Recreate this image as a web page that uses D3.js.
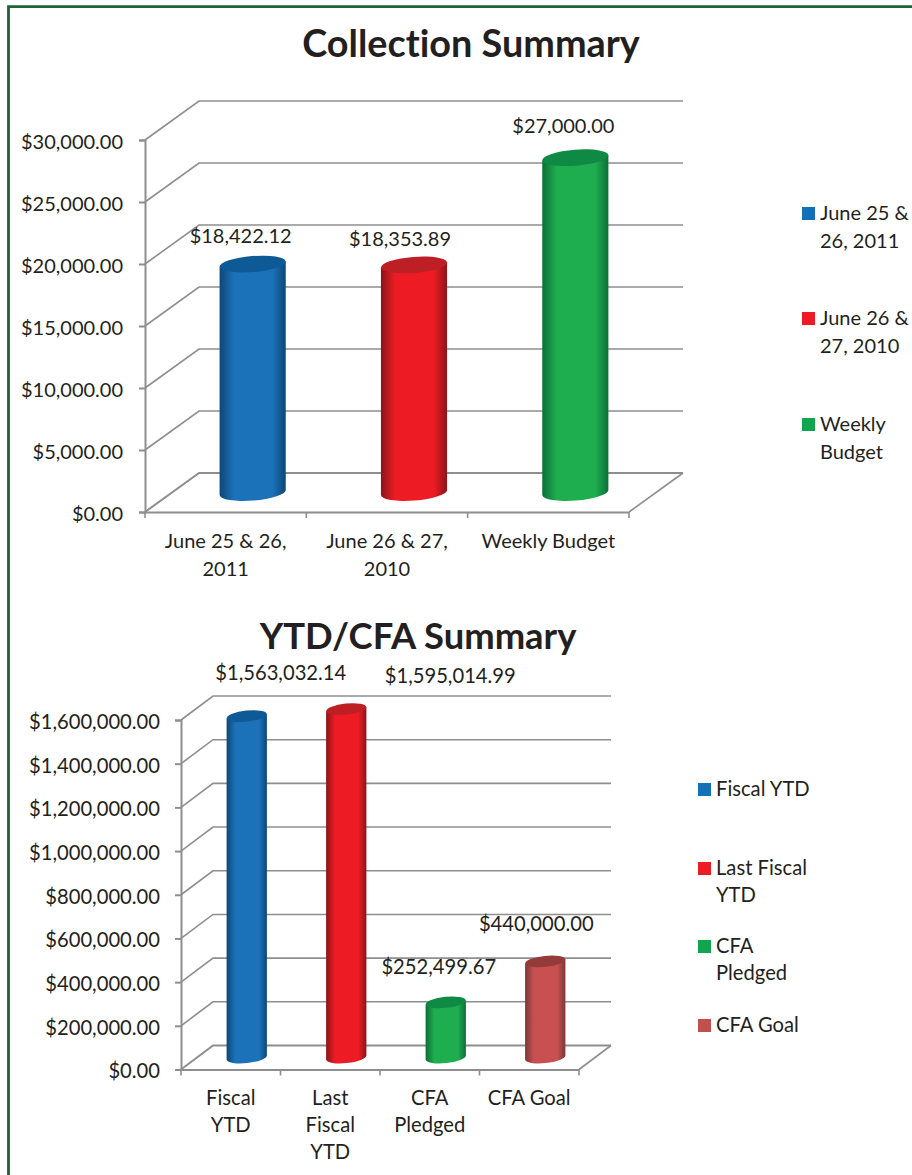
<!DOCTYPE html>
<html>
<head>
<meta charset="utf-8">
<title>Collection Summary</title>
<script src="https://d3js.org/d3.v7.min.js"></script>
<style>
  html, body { margin: 0; padding: 0; background: #fff; }
  svg { display: block; }
  text { font-family: Lato, "Open Sans", sans-serif; fill: #231f20; font-variant-ligatures: none; }
</style>
</head>
<body>
<div id="my_dataviz"></div>

<script>

// chart 1 data
var collectionCategories = ["June 25 & 26, 2011", "June 26 & 27, 2010", "Weekly Budget"];
var collectionValues = [18422.12, 18353.89, 27000];
var collectionTicks = [0, 5000, 10000, 15000, 20000, 25000, 30000];
var collectionAxisLabels = [["June 25 & 26,", "2011"], ["June 26 & 27,", "2010"], ["Weekly Budget"]];
var collectionLegend = [["June 25 &", "26, 2011"], ["June 26 &", "27, 2010"], ["Weekly", "Budget"]];

// chart 2 data
var ytdCategories = ["Fiscal YTD", "Last Fiscal YTD", "CFA Pledged", "CFA Goal"];
var ytdValues = [1563032.14, 1595014.99, 252499.67, 440000];
var ytdTicks = [0, 200000, 400000, 600000, 800000, 1000000, 1200000, 1400000, 1600000];
var ytdAxisLabels = [["Fiscal", "YTD"], ["Last", "Fiscal", "YTD"], ["CFA", "Pledged"], ["CFA Goal"]];
var ytdLegend = [["Fiscal YTD"], ["Last Fiscal", "YTD"], ["CFA", "Pledged"], ["CFA Goal"]];

// colours: edge, middle, top of cylinder, legend square
var palette = [
  { edge: "#0d4778", mid: "#1b72b8", top: "#0d5a96", key: "#1170b8" },
  { edge: "#8a1519", mid: "#ed1c24", top: "#bd1f25", key: "#ed1c24" },
  { edge: "#0c6f38", mid: "#1fae4f", top: "#0f8a45", key: "#12a54f" },
  { edge: "#7c3636", mid: "#c95051", top: "#933a3a", key: "#c0504d" }
];

var svg = d3.select("#my_dataviz")
  .append("svg")
    .attr("width", 912)
    .attr("height", 1175);

// green page frame
svg.append("path")
  .attr("d", "M8.5,1175 V6.7 H912")
  .attr("fill", "none")
  .attr("stroke", "#1c6337")
  .attr("stroke-width", 2.8);

// shared gradients, one per colour
var defs = svg.append("defs");
palette.forEach(function(c, i) {
  var g = defs.append("linearGradient").attr("id", "cyl" + i);
  [[0, c.edge], [0.22, c.mid], [0.5, c.mid], [0.8, c.mid], [1, c.edge]].forEach(function(s) {
    g.append("stop").attr("offset", s[0]).attr("stop-color", s[1]);
  });
});

var currency = d3.format("$,.2f");

function drawChart(opt) {
  var g = svg.append("g");

  var x = d3.scaleBand()
    .domain(opt.categories)
    .range([opt.left, opt.right]);

  var y = d3.scaleLinear()
    .domain(opt.domain)
    .range([opt.bottom, opt.top]);

  var dx = opt.depthX, dy = opt.depthY;

  // back wall gridlines and the diagonals on the side wall
  g.selectAll(".grid")
    .data(opt.ticks)
    .enter().append("path")
      .attr("fill", "none")
      .attr("stroke", "#8e8e8e")
      .attr("stroke-width", function(d) { return d === 0 ? 2 : 1.6; })
      .attr("d", function(d) {
        return "M" + opt.left + "," + y(d) + " L" + (opt.left + dx) + "," + (y(d) - dy) + " H" + (opt.right + dx);
      });

  // floor right edge
  g.append("line")
    .attr("x1", opt.right).attr("y1", y(0))
    .attr("x2", opt.right + dx).attr("y2", y(0) - dy)
    .attr("stroke", "#8e8e8e")
    .attr("stroke-width", 1.6);

  // Y axis
  var yAxis = g.append("g")
    .attr("transform", "translate(" + opt.left + ",0)")
    .call(d3.axisLeft(y).tickValues(opt.ticks).tickFormat(currency).tickSize(6).tickPadding(opt.yPad));
  yAxis.selectAll("text")
    .attr("dy", "0.42em")
    .style("font-size", opt.fontSize + "px");

  // X axis, ticks sit between the categories
  var xAxis = g.append("g")
    .attr("transform", "translate(0," + y(0) + ")")
    .call(d3.axisBottom(x).tickSize(0).tickFormat(""));
  xAxis.selectAll(".tick").remove();
  var edges = opt.categories.map(function(c) { return x(c); }).concat([opt.right]);
  xAxis.selectAll(".edge")
    .data(edges)
    .enter().append("line")
      .attr("x1", function(d) { return d; })
      .attr("x2", function(d) { return d; })
      .attr("y2", 6)
      .attr("stroke", "#8e8e8e")
      .attr("stroke-width", 1.6);

  g.selectAll(".domain, .tick line")
    .attr("stroke", "#8e8e8e")
    .attr("stroke-width", 2);

  // category labels
  var cat = g.selectAll(".cat")
    .data(opt.categories)
    .enter().append("text")
      .attr("text-anchor", "middle")
      .style("font-size", opt.fontSize + "px");
  cat.selectAll("tspan")
    .data(function(d, i) {
      return opt.axisLabels[i].map(function(t) { return { text: t, cat: d }; });
    })
    .enter().append("tspan")
      .attr("x", function(d) { return x(d.cat) + x.bandwidth() / 2; })
      .attr("y", function(d, i) { return y(0) + opt.catOffset + i * opt.lineHeight; })
      .text(function(d) { return d.text; });

  // cylinders
  var rx = x.bandwidth() * opt.barRatio / 2;
  var tilt = rx * Math.sin(opt.tilt * Math.PI / 180);
  var cx = function(c) { return x(c) + x.bandwidth() / 2 + dx / 2; };
  var base = y(0) - dy / 2;

  var bars = g.selectAll(".bar")
    .data(opt.values)
    .enter().append("g");

  bars.append("path")
    .attr("fill", function(d, i) { return "url(#cyl" + i + ")"; })
    .attr("d", function(d, i) {
      var c = cx(opt.categories[i]), t = y(d) - dy / 2;
      return "M" + (c - rx) + "," + (t + tilt) +
        " L" + (c - rx) + "," + (base + tilt) +
        " A" + rx + "," + opt.ry + " " + (-opt.tilt) + " 0 0 " + (c + rx) + "," + (base - tilt) +
        " L" + (c + rx) + "," + (t - tilt) + " Z";
    });

  bars.append("ellipse")
    .attr("cx", function(d, i) { return cx(opt.categories[i]); })
    .attr("cy", function(d) { return y(d) - dy / 2; })
    .attr("rx", rx)
    .attr("ry", opt.ry)
    .attr("fill", function(d, i) { return palette[i].top; })
    .attr("transform", function(d, i) {
      return "rotate(" + (-opt.tilt) + " " + cx(opt.categories[i]) + " " + (y(d) - dy / 2) + ")";
    });

  // value labels
  bars.append("text")
    .attr("text-anchor", "middle")
    .attr("x", function(d, i) { return cx(opt.categories[i]) + opt.labelShift[i][0]; })
    .attr("y", function(d) { return y(d) - dy / 2; })
    .attr("dy", function(d, i) { return opt.labelShift[i][1]; })
    .style("font-size", opt.fontSize + "px")
    .text(function(d) { return currency(d); });

  // legend
  var leg = g.selectAll(".legend")
    .data(opt.legend)
    .enter().append("g")
      .attr("transform", function(d, i) { return "translate(" + opt.legendX + "," + opt.legendY[i] + ")"; });

  leg.append("rect")
    .attr("y", -6.5)
    .attr("width", 13)
    .attr("height", 13)
    .attr("fill", function(d, i) { return palette[i].key; });

  leg.append("text")
    .style("font-size", opt.fontSize + "px")
    .selectAll("tspan")
    .data(function(d) { return d; })
    .enter().append("tspan")
      .attr("x", 18)
      .attr("y", function(d, i) { return 6.5 + i * opt.lineHeight; })
      .text(function(d) { return d; });

  // title
  g.append("text")
    .attr("text-anchor", "middle")
    .attr("x", opt.titleX)
    .attr("y", opt.titleY)
    .style("font-size", opt.titleSize + "px")
    .style("font-weight", "700")
    .text(opt.title);
}

drawChart({
  title: "Collection Summary",
  titleX: 471, titleY: 57, titleSize: 37.8,
  categories: collectionCategories,
  values: collectionValues,
  ticks: collectionTicks,
  axisLabels: collectionAxisLabels,
  legend: collectionLegend,
  domain: [0, 30000],
  left: 145, right: 629, top: 140, bottom: 512,
  depthX: 54, depthY: 39,
  barRatio: 0.41, ry: 8, tilt: 4.5,
  fontSize: 20, lineHeight: 27.5, catOffset: 36, yPad: 16,
  labelShift: [[-12, -21], [-14, -19], [-12, -25]],
  legendX: 802, legendY: [213.5, 318.5, 424.5]
});

drawChart({
  title: "YTD/CFA Summary",
  titleX: 418, titleY: 649, titleSize: 36.4,
  categories: ytdCategories,
  values: ytdValues,
  ticks: ytdTicks,
  axisLabels: ytdAxisLabels,
  legend: ytdLegend,
  domain: [0, 1600000],
  left: 181, right: 579, top: 720, bottom: 1069.5,
  depthX: 32, depthY: 24,
  barRatio: 0.405, ry: 5.5, tilt: 6,
  fontSize: 20.2, lineHeight: 27, catOffset: 35, yPad: 15,
  labelShift: [[34, -36], [104, -26], [-7, -28], [-9, -30]],
  legendX: 698, legendY: [789.5, 868.5, 946.5, 1025.5]
});

</script>
</body>
</html>
